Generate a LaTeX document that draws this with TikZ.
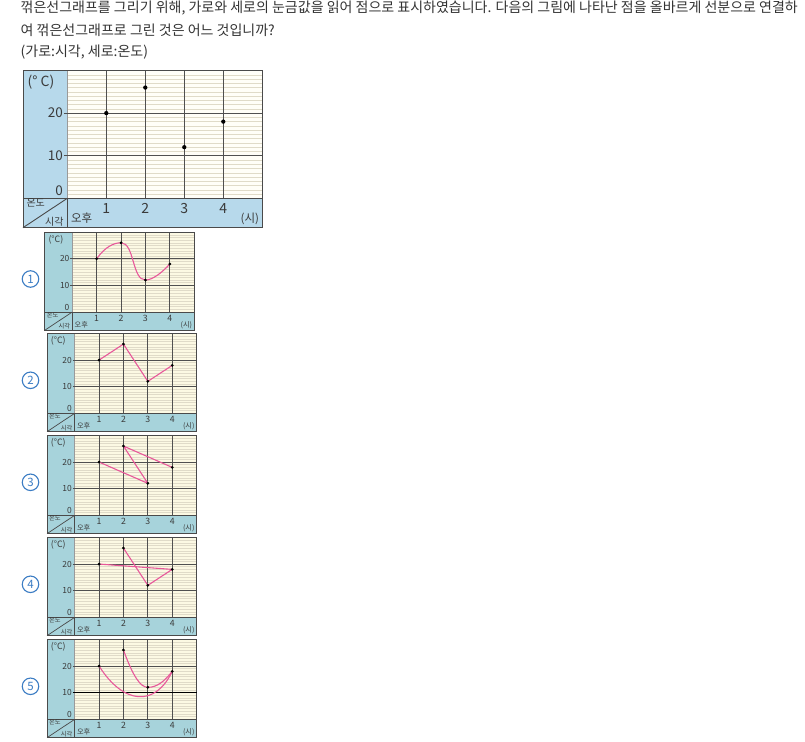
\documentclass[tikz,border=0pt]{standalone}
\usepackage{fontspec}
\setmainfont{Noto Sans CJK KR}
\definecolor{mainblue}{HTML}{B7D9EB}
\definecolor{smallblue}{HTML}{A7D3DB}
\definecolor{mainplot}{HTML}{FFFEF7}
\definecolor{cream}{HTML}{FCF9E3}
\definecolor{minorcol}{HTML}{E0DBC8}
\definecolor{majorcol}{HTML}{505050}
\definecolor{framecol}{HTML}{4A4A4A}
\definecolor{edgecol}{HTML}{9A9A9A}
\definecolor{pinkline}{HTML}{E8589A}
\definecolor{numblue}{HTML}{3C7DC4}
\definecolor{txtcol}{HTML}{333333}
\definecolor{lblcol}{HTML}{3A3A3A}
\tikzset{
  minorl/.style={draw=minorcol, line width=0.45pt},
  majorl/.style={draw=majorcol, line width=\lwA pt},
  framel/.style={draw=framecol, line width=\lwA pt},
  edgel/.style={draw=edgecol, line width=0.5pt},
  pinkl/.style={draw=pinkline, line width=1.1pt, line cap=round, line join=round},
  lbl/.style={inner sep=0pt, text=lblcol},
  qtext/.style={anchor=west, inner sep=0pt, text=txtcol, font=\fontsize{14pt}{16pt}\selectfont},
  numc/.style={circle, draw=numblue, line width=1.1pt, minimum size=16.5pt, inner sep=0pt, text=numblue, font=\fontsize{11.5pt}{11.5pt}\selectfont},
}
% #1 prefix, #2 x0, #3 y0, #4 scale, #5 column colour, #6 plot colour, #7 line code, #8 unit text
\newcommand\tchart[8]{%
  \pgfmathsetmacro\fsA{13.5*#4}%
  \pgfmathsetmacro\fsB{11.5*#4}%
  \pgfmathsetmacro\fsC{10*#4}%
  \pgfmathsetmacro\fsD{14*#4}%
  \pgfmathsetmacro\lwA{0.37+0.53*#4}%
  \pgfmathsetmacro\dotr{0.55+1.6*#4}%
  \begin{scope}[shift={(#2,#3)}, x=#4*39pt, y=#4*4.26pt]
    \fill[#5] (-1.136,-6.9) rectangle (5,30);
    \fill[#6] (0,0) rectangle (5,30);
    \foreach \t in {1,...,29}{\draw[minorl] (0,\t) -- (5,\t);}
    \draw[edgel] (0,0) -- (0,30);
    \foreach \t in {10,20}{\draw[majorl] (-0.08,\t) -- (5,\t);}
    \foreach \h in {1,...,4}{\draw[majorl] (\h,0) -- (\h,30);}
    \draw[framel] (-1.136,0) -- (5,0);
    \draw[framel] (0,-6.9) -- (0,0);
    \draw[framel] (-1.136,-6.9) -- (0,0);
    \draw[framel] (-1.136,-6.9) rectangle (5,30);
    \coordinate (#1-p1) at (1,20);
    \coordinate (#1-p2) at (2,26);
    \coordinate (#1-p3) at (3,12);
    \coordinate (#1-p4) at (4,18);
    #7
    \foreach \k in {1,...,4}{\fill[black] (#1-p\k) circle[radius=\dotr pt];}
    \node[lbl, font={\fontsize{\fsD pt}{\fsD pt}\selectfont}] (#1-unit) at (-0.674,27.3) {#8};
    \node[lbl, anchor=east, font={\fontsize{\fsA pt}{\fsA pt}\selectfont}] (#1-y20) at (-0.11,20) {20};
    \node[lbl, anchor=east, font={\fontsize{\fsA pt}{\fsA pt}\selectfont}] (#1-y10) at (-0.11,10) {10};
    \node[lbl, anchor=east, font={\fontsize{\fsA pt}{\fsA pt}\selectfont}] (#1-y0) at (-0.11,1.7) {0};
    \foreach \h in {1,...,4}{\node[lbl, font={\fontsize{\fsD pt}{\fsD pt}\selectfont}] (#1-h\h) at (\h,-2.35) {\h};}
    \node[lbl, font={\fontsize{\fsB pt}{\fsB pt}\selectfont}] (#1-pm) at (0.37,-4.69) {오후};
    \node[lbl, font={\fontsize{\fsB pt}{\fsB pt}\selectfont}] (#1-ux) at (4.68,-4.86) {(시)};
    \node[lbl, font={\fontsize{\fsC pt}{\fsC pt}\selectfont}] (#1-ondo) at (-0.81,-1.17) {온도};
    \node[lbl, font={\fontsize{\fsC pt}{\fsC pt}\selectfont}] (#1-sigak) at (-0.33,-5.5) {시각};
  \end{scope}}
\begin{document}
\begin{tikzpicture}[x=1pt, y=-1pt]
  \useasboundingbox (0,0) rectangle (805,741);
  \fill[white] (0,0) rectangle (805,741);
  \node[qtext] (q1) at (20.5,8.5) {꺾은선그래프를 그리기 위해, 가로와 세로의 눈금값을 읽어 점으로 표시하였습니다. 다음의 그림에 나타난 점을 올바르게 선분으로 연결하};
  \node[qtext] (q2) at (20.5,30.5) {여 꺾은선그래프로 그린 것은 어느 것입니까?};
  \node[qtext] (q3) at (20.5,52) {(가로:시각, 세로:온도)};

  \tchart{m}{67.3}{198.3}{1}{mainblue}{mainplot}{}{(°\ C)}

  \tchart{c1}{72.3}{312}{0.625}{smallblue}{cream}{%
    \draw[pinkl] (c1-p1) .. controls (1.35,24.5) and (1.7,26) .. (c1-p2)
      .. controls (2.55,26) and (2.45,12) .. (c1-p3)
      .. controls (3.3,12) and (3.7,15) .. (c1-p4);}{(°C)}
  \tchart{c2}{74.7}{413.3}{0.625}{smallblue}{cream}{%
    \draw[pinkl] (c2-p1) -- (c2-p2) -- (c2-p3) -- (c2-p4);}{(°C)}
  \tchart{c3}{74.7}{515.3}{0.625}{smallblue}{cream}{%
    \draw[pinkl] (c3-p1) -- (c3-p3) -- (c3-p2) -- (c3-p4);}{(°C)}
  \tchart{c4}{74.7}{617.3}{0.625}{smallblue}{cream}{%
    \draw[pinkl] (c4-p1) -- (c4-p4);
    \draw[pinkl] (c4-p2) -- (c4-p3) -- (c4-p4);}{(°C)}
  \tchart{c5}{74.7}{719.3}{0.625}{smallblue}{cream}{%
    \draw[black, line width=0.9pt] (-0.08,10) -- (5,10);
    \draw[pinkl] (c5-p1) .. controls (2,5.5) and (3.3,4.5) .. (c5-p4);
    \draw[pinkl] (c5-p2) .. controls (2.4,16) and (2.7,12) .. (c5-p3)
      .. controls (3.4,12) and (3.7,14.5) .. (c5-p4);}{(°C)}

  \node[numc] (n1) at (30.5,279) {1};
  \node[numc] (n2) at (30.5,380.3) {2};
  \node[numc] (n3) at (30.5,482.3) {3};
  \node[numc] (n4) at (30.5,584.3) {4};
  \node[numc] (n5) at (30.5,686.3) {5};
\end{tikzpicture}
\end{document}
